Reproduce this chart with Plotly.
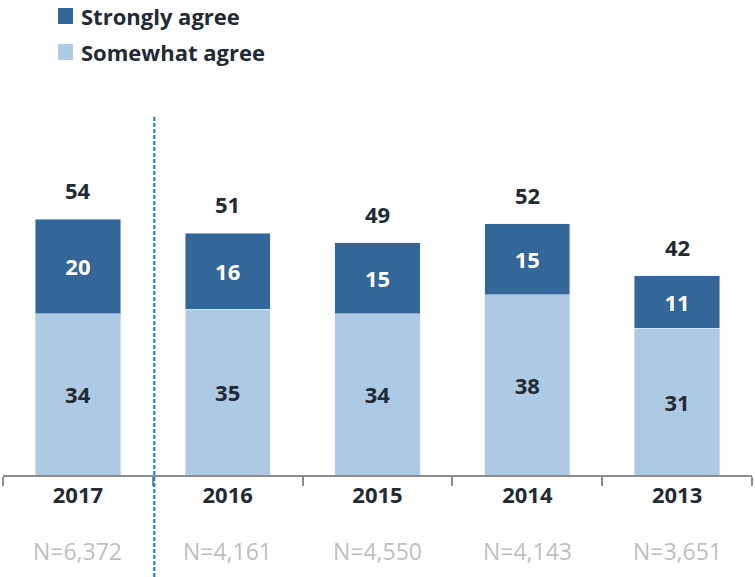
import plotly.graph_objects as go

years = ["2017", "2016", "2015", "2014", "2013"]
somewhat = [34, 35, 34, 38, 31]
strongly = [20, 16, 15, 15, 11]
totals = [54, 51, 49, 52, 42]
n_labels = ["N=6,372", "N=4,161", "N=4,550", "N=4,143", "N=3,651"]
legend_names = ["Strongly agree", "Somewhat agree"]

FONT = "Open Sans"
DARK = "#336699"
LIGHT = "#adc9e4"
TXT = "#222a35"

W, H = 755, 577
MT, MB = 100, 102
plot_h = H - MT - MB

fig = go.Figure()
fig.add_trace(go.Bar(
    x=list(range(len(years))), y=somewhat, name=legend_names[1], marker_color=LIGHT,
    text=somewhat, textposition="inside", insidetextanchor="middle",
    textfont=dict(family=FONT, size=22, color=TXT, weight="bold"),
    width=0.57,
))
fig.add_trace(go.Bar(
    x=list(range(len(years))), y=strongly, name=legend_names[0], marker_color=DARK,
    text=strongly, textposition="inside", insidetextanchor="middle",
    textfont=dict(family=FONT, size=22, color="white", weight="bold"),
    width=0.57,
))

for i, (s, t, tot) in enumerate(zip(somewhat, strongly, totals)):
    fig.add_annotation(x=i, y=s + t, text=f"<b>{tot}</b>", showarrow=False,
                       yanchor="bottom", yshift=12,
                       font=dict(family=FONT, size=22, color=TXT))

for i, nl in enumerate(n_labels):
    fig.add_annotation(x=i, xref="x", y=-(551 - 475) / plot_h, yref="paper",
                       text=nl, showarrow=False, yanchor="middle",
                       font=dict(family=FONT, size=23, color="#bfbfbf"))

# manual legend (top-left)
leg_y = [16, 52]
leg_cols = [DARK, LIGHT]
for name, yc, col in zip(legend_names, leg_y, leg_cols):
    fig.add_shape(type="rect", xref="paper", yref="paper",
                  x0=(58 - 3) / (W - 6), x1=(73 - 3) / (W - 6),
                  y0=(H - MB - (yc + 8)) / plot_h, y1=(H - MB - (yc - 8)) / plot_h,
                  fillcolor=col, line=dict(width=0))
    fig.add_annotation(xref="paper", yref="paper", x=(79 - 3) / (W - 6),
                       y=(H - MB - yc) / plot_h, text=f"<b>{name}</b>",
                       showarrow=False, xanchor="left", yanchor="middle",
                       font=dict(family=FONT, size=22, color=TXT))

fig.add_shape(type="line", xref="x", yref="paper", x0=0.51, x1=0.51,
              y0=-MB / plot_h, y1=(475 - 115) / plot_h,
              line=dict(color="#1a7ad0", width=2, dash="4px,2px"))

fig.update_layout(
    width=W, height=H,
    margin=dict(l=3, r=3, t=MT, b=MB),
    barmode="stack",
    plot_bgcolor="white", paper_bgcolor="white",
    showlegend=False,
    xaxis=dict(
        range=[-0.5, 4.5], automargin=False,
        tickvals=list(range(len(years))), ticktext=[f"<b>{y}</b>" for y in years],
        tickfont=dict(family=FONT, size=22, color=TXT),
        showline=True, linecolor="#8c8c8c", linewidth=2,
        ticks="", showgrid=False, zeroline=False,
        minor=dict(tickvals=[-0.5, 0.5, 1.5, 2.5, 3.5, 4.5], ticks="outside",
                   ticklen=9, tickcolor="#8c8c8c", tickwidth=2, showgrid=False),
    ),
    yaxis=dict(range=[0, plot_h / 4.74], visible=False, showgrid=False, automargin=False),
)

fig.write_html("out.html", config={"displayModeBar": False},
               post_script="document.body.style.margin='0';document.body.style.overflow='hidden';")
